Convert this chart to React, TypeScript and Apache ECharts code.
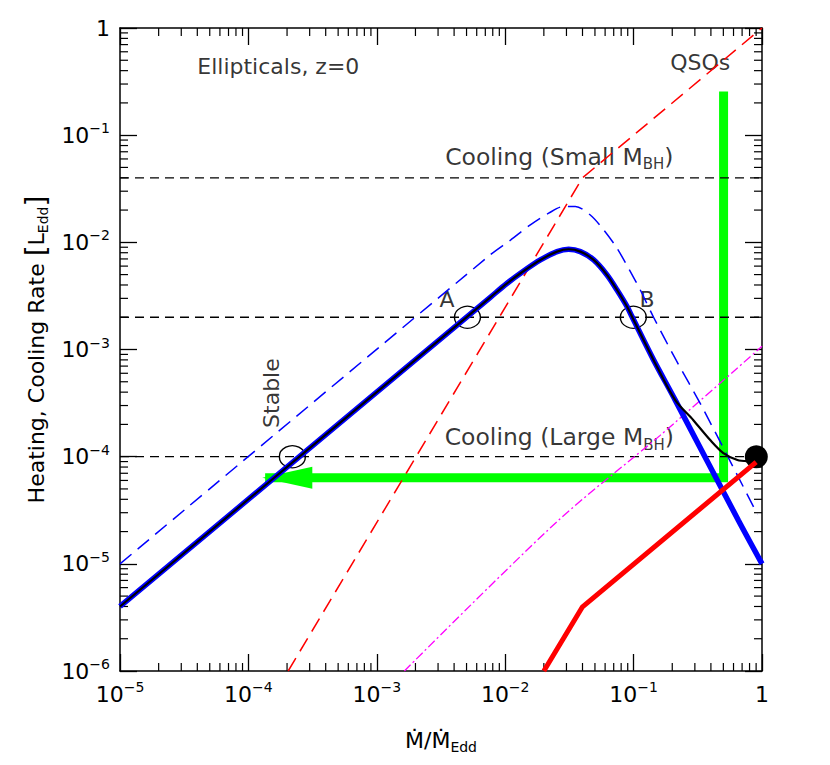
import React, { useEffect, useRef } from 'react';
import * as echarts from 'echarts';

const X_MIN = 1e-5;
const X_MAX = 1;
const Y_MIN = 1e-6;
const Y_MAX = 1;

// horizontal cooling levels
const coolingSmall = [[1e-5, 0.04], [1, 0.04]];
const coolingMid = [[1e-5, 2e-3], [1, 2e-3]];
const coolingLarge = [[1e-5, 1e-4], [1, 1e-4]];

// blue dashed heating (upper)
const heatingUpper = [
  [1e-5, 1e-5], [7.66e-3, 7.66e-3], [0.011, 0.0105], [0.0157, 0.01456], [0.0218, 0.0187],
  [0.0285, 0.0216], [0.0352, 0.0216], [0.046, 0.018], [0.0585, 0.01306], [0.0743, 8.8e-3],
  [0.0944, 5.32e-3], [0.1128, 3.59e-3], [0.143, 2e-3], [0.215, 7.9e-4], [0.337, 3.0e-4],
  [0.92, 2.9e-5],
];

// thick blue heating curve
const heatingMain = [
  [1e-5, 4e-6], [7.66e-3, 3.07e-3], [0.01035, 4.15e-3], [0.01393, 5.4e-3], [0.01879, 6.85e-3],
  [0.02535, 8.19e-3], [0.0312, 8.62e-3], [0.0385, 8.19e-3], [0.0489, 6.85e-3], [0.0621, 4.96e-3],
  [0.0743, 3.59e-3], [0.089, 2.51e-3], [0.0973, 2.02e-3], [0.143, 8.0e-4], [0.211, 3.37e-4],
  [0.654, 2.55e-5], [1, 1e-5],
];

// thin black total curve
const heatingTotal = [
  [1e-5, 4e-6], [7.66e-3, 3.07e-3], [0.01035, 4.15e-3], [0.01393, 5.4e-3], [0.01879, 6.85e-3],
  [0.02535, 8.19e-3], [0.0312, 8.62e-3], [0.0385, 8.19e-3], [0.0489, 6.85e-3], [0.0621, 4.96e-3],
  [0.0743, 3.59e-3], [0.089, 2.51e-3], [0.0973, 2.02e-3], [0.143, 8.0e-4], [0.211, 3.37e-4],
  [0.292, 2.19e-4], [0.395, 1.43e-4], [0.5, 1.08e-4], [0.643, 9.3e-5], [0.769, 9.1e-5],
  [0.903, 9.9e-5],
];

const redDashed = [[2.04e-4, 1e-6], [0.04, 0.04], [1, 1]];
const magentaDashDot = [[1.64e-3, 1e-6], [0.026, 2.55e-5], [0.161, 1.58e-4], [1, 1.07e-3]];
const redSolid = [[0.02, 1e-6], [0.04, 3.97e-6], [0.9, 8.9e-5]];
const greenTrack = [[0.502, 0.256], [0.502, 6.37e-5], [1.35e-4, 6.37e-5]];
const greenArrowHead = [[2.01e-4, 6.37e-5]];
const markedPoints = [[5.08e-3, 2e-3], [0.0995, 2e-3], [2.2e-4, 1e-4]];
const endPoint = [[0.903, 1e-4]];

const FONT = '"DejaVu Sans", "Liberation Sans", sans-serif';

const annotations = [
  { text: '{n|Ellipticals, z=0}', pos: [1.71e-4, 0.435], rotate: 0 },
  { text: '{n|QSOs}', pos: [0.33, 0.479], rotate: 0 },
  { text: '{c|Cooling (Small M}{csub|BH}{c|)}', pos: [0.0264, 0.0628], rotate: 0 },
  { text: '{c|Cooling (Large M}{csub|BH}{c|)}', pos: [0.0264, 1.52e-4], rotate: 0 },
  { text: '{n|Stable}', pos: [1.51e-4, 3.92e-4], rotate: 90 },
  { text: '{n|A}', pos: [3.52e-3, 2.9e-3], rotate: 0 },
  { text: '{n|B}', pos: [0.127, 2.9e-3], rotate: 0 },
];

const xMinor: number[] = [];
for (let e = -5; e < 0; e++) for (let m = 2; m <= 9; m++) xMinor.push(m * Math.pow(10, e));
const yMinor: number[] = [];
for (let e = -6; e < 0; e++) for (let m = 2; m <= 9; m++) yMinor.push(m * Math.pow(10, e));

const richText = {
  n: { fontSize: 22, fontFamily: FONT, color: '#000', lineHeight: 28 },
  c: { fontSize: 23.5, fontFamily: FONT, color: '#000', lineHeight: 30 },
  csub: { fontSize: 15, fontFamily: FONT, color: '#000', lineHeight: 15, verticalAlign: 'bottom' },
  sub: { fontSize: 14, fontFamily: FONT, color: '#000', lineHeight: 14, verticalAlign: 'bottom' },
  sup: { fontSize: 14, fontFamily: FONT, color: '#000', lineHeight: 14, verticalAlign: 'top' },
  br: { fontSize: 28, fontFamily: FONT, color: '#000', lineHeight: 28 },
};

const fmtLog = (v: number) => {
  const e = Math.round(Math.log10(v));
  return e === 0 ? '{n|1}' : `{n|10}{sup|\u2212${-e}}`;
};

const MAJOR = 17;
const MINOR = 8;

function makeAxis(kind: 'x' | 'y', position: string, labels: boolean, name?: string) {
  return {
    type: 'log',
    logBase: 10,
    min: kind === 'x' ? X_MIN : Y_MIN,
    max: kind === 'x' ? X_MAX : Y_MAX,
    splitNumber: kind === 'x' ? 5 : 6,
    position,
    axisLine: { show: true, onZero: false, lineStyle: { color: '#000', width: 1.5 } },
    axisTick: { show: true, inside: true, length: MAJOR, lineStyle: { color: '#000', width: 1.3 } },
    minorTick: { show: false },
    splitLine: { show: false },
    axisLabel: {
      show: labels,
      formatter: fmtLog,
      rich: richText,
      color: '#000',
      margin: kind === 'x' ? 9 : 10,
      showMinLabel: true,
      showMaxLabel: true,
    },
    name: name || '',
    nameLocation: 'middle',
    nameGap: kind === 'x' ? 55 : 60,
    nameRotate: kind === 'y' ? 90 : 0,
    nameTextStyle: { rich: richText, color: '#000' },
  };
}

export default function App() {
  const ref = useRef<HTMLDivElement>(null);
  useEffect(() => {
    if (!ref.current) return;
    const chart = echarts.init(ref.current, undefined, { renderer: 'svg' });
    const lineBase = { type: 'line', showSymbol: false, symbol: 'none', silent: true, xAxisIndex: 0, yAxisIndex: 0 };
    const option: any = {
      animation: false,
      backgroundColor: '#fff',
      grid: { left: 120, right: 68, top: 28, bottom: 94 },
      xAxis: [
        makeAxis('x', 'bottom', true, '{n|\u1E40/\u1E40}{sub|Edd}'),
        makeAxis('x', 'top', false),
      ],
      yAxis: [
        makeAxis('y', 'left', true, '{n|Heating, Cooling Rate }{br|[}{n|L}{sub|Edd}{br|]}'),
        makeAxis('y', 'right', false),
      ],
      series: [
        {
          type: 'custom', silent: true, clip: false,
          data: xMinor.map((v) => [v, Y_MIN]),
          renderItem: (params: any, api: any) => {
            const v = api.value(0);
            const b = api.coord([v, Y_MIN]);
            const t = api.coord([v, Y_MAX]);
            const st = { stroke: '#000', lineWidth: 1.2 };
            return {
              type: 'group', children: [
                { type: 'line', shape: { x1: b[0], y1: b[1], x2: b[0], y2: b[1] - MINOR }, style: st },
                { type: 'line', shape: { x1: t[0], y1: t[1], x2: t[0], y2: t[1] + MINOR }, style: st },
              ],
            };
          },
        },
        {
          type: 'custom', silent: true, clip: false,
          data: yMinor.map((v) => [X_MIN, v]),
          renderItem: (params: any, api: any) => {
            const v = api.value(1);
            const l = api.coord([X_MIN, v]);
            const r = api.coord([X_MAX, v]);
            const st = { stroke: '#000', lineWidth: 1.2 };
            return {
              type: 'group', children: [
                { type: 'line', shape: { x1: l[0], y1: l[1], x2: l[0] + MINOR, y2: l[1] }, style: st },
                { type: 'line', shape: { x1: r[0], y1: r[1], x2: r[0] - MINOR, y2: r[1] }, style: st },
              ],
            };
          },
        },
        { ...lineBase, name: 'QSO track', data: greenTrack, lineStyle: { color: '#00ff00', width: 9, join: 'miter', cap: 'butt' } },
        {
          type: 'scatter', silent: true, data: greenArrowHead, symbol: 'triangle', symbolRotate: 90,
          symbolSize: [22, 50], itemStyle: { color: '#00ff00', opacity: 1 },
        },
        { ...lineBase, name: 'Cooling small', data: coolingSmall, lineStyle: { color: '#000', width: 1.3, type: [9, 6] } },
        { ...lineBase, name: 'Cooling mid', data: coolingMid, lineStyle: { color: '#000', width: 1.3, type: [9, 6] } },
        { ...lineBase, name: 'Cooling large', data: coolingLarge, lineStyle: { color: '#000', width: 1.3, type: [9, 6] } },
        { ...lineBase, name: 'Magenta', data: magentaDashDot, smooth: 0.3, lineStyle: { color: '#ff00ff', width: 1.3, type: [9, 3, 2, 3] } },
        { ...lineBase, name: 'Red dashed', data: redDashed, lineStyle: { color: '#ff0000', width: 1.5, type: [15, 8] } },
        { ...lineBase, name: 'Heating upper', data: heatingUpper, smooth: 0.3, lineStyle: { color: '#0000ff', width: 1.5, type: [15, 8] } },
        { ...lineBase, name: 'Heating', data: heatingMain, smooth: 0.3, lineStyle: { color: '#0000ff', width: 5.5 } },
        { ...lineBase, name: 'Total', data: heatingTotal, smooth: 0.3, lineStyle: { color: '#000', width: 2.2 } },
        { ...lineBase, name: 'Red solid', data: redSolid, lineStyle: { color: '#ff0000', width: 5 } },
        {
          type: 'scatter', silent: true, data: markedPoints, symbol: 'circle', symbolSize: [26, 22],
          itemStyle: { color: 'rgba(0,0,0,0)', borderColor: '#000', borderWidth: 1.3, opacity: 1 },
        },
        {
          type: 'scatter', silent: true, data: endPoint, symbol: 'circle', symbolSize: 23,
          itemStyle: { color: '#000', opacity: 1 },
        },
        {
          type: 'scatter', silent: true, symbolSize: 0,
          data: annotations.map((a) => ({
            value: a.pos,
            label: {
              show: true, position: 'inside', formatter: a.text, rotate: a.rotate, rich: richText, color: '#000',
            },
          })),
          itemStyle: { color: 'rgba(0,0,0,0)' },
        },
      ],
    };
    chart.setOption(option);
    return () => chart.dispose();
  }, []);
  return (
    <div
      ref={ref}
      style={{ position: 'absolute', left: 0, top: 0, width: 830, height: 765, background: '#fff' }}
    />
  );
}
